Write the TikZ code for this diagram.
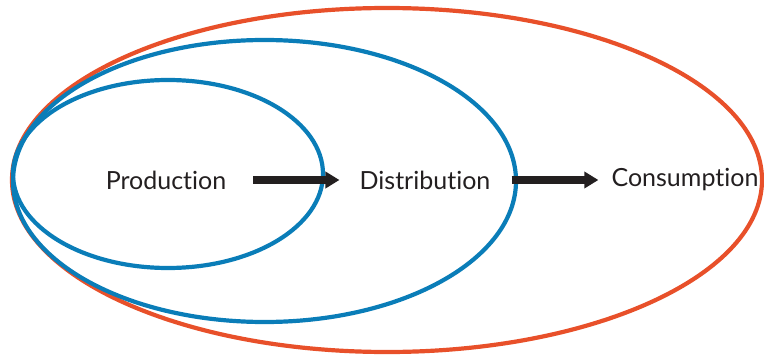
\documentclass[tikz,border=0pt]{standalone}
\usepackage{fontspec}
\setmainfont[Ligatures=NoCommon]{Lato}
\usetikzlibrary{arrows.meta}
\definecolor{ringred}{HTML}{E8502A}
\definecolor{ringblue}{HTML}{0A7DB8}
\definecolor{ink}{HTML}{231F20}
\begin{document}
\begin{tikzpicture}[x=1pt,y=-1pt,
    ring/.style={line width=4.2pt},
    stage/.style={inner sep=0pt,text=ink,font=\fontsize{25}{30}\selectfont},
    flow/.style={ink,line width=8pt,-{Triangle[length=14pt,width=16pt]}}]
    \useasboundingbox (0,0) rectangle (764,356);
    % rings
    \draw[ring,ringred] (387,180) ellipse [x radius=375,y radius=172];
    \draw[ring,ringblue] (264.5,181) ellipse [x radius=251.5,y radius=141];
    \draw[ring,ringblue] (168,174) ellipse [x radius=155,y radius=94];
    % stages
    \node[stage] (prod) at (166,180) {Production};
    \node[stage] (dist) at (425,180) {Distribution};
    \node[stage] (cons) at (685,180) {Consumption};
    \draw[flow,shorten <=27pt,shorten >=20pt] (prod) -- (dist);
    \draw[flow,shorten <=21pt,shorten >=13pt] (dist) -- (cons);
\end{tikzpicture}
\end{document}
